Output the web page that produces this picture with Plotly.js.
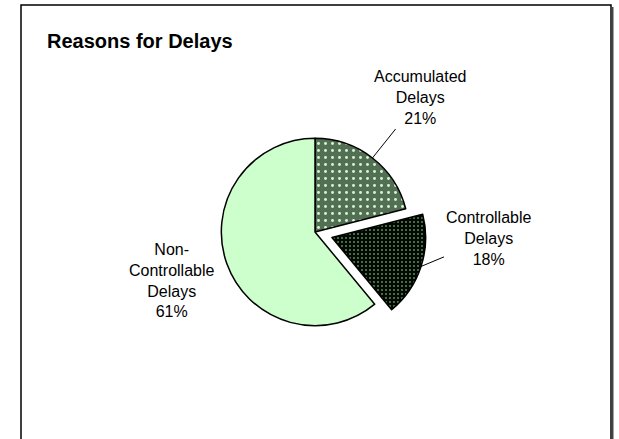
<!DOCTYPE html>
<html>
<head>
<meta charset="utf-8">
<script src="https://cdn.plot.ly/plotly-3.0.1.min.js"></script>
<style>html,body{margin:0;padding:0;background:#fff;}#chart{width:619px;height:439px;}</style>
</head>
<body>
<div id="chart"></div>
<script>
// ---- data ----
const categories = ["Accumulated Delays", "Controllable Delays", "Non-Controllable Delays"];
const displayLabels = ["Accumulated<br>Delays", "Controllable<br>Delays", "Non-<br>Controllable<br>Delays"];
const shares = [21, 18, 61];
const pulls = [0, 0.19, 0];

const W = 619, H = 439;
const FONT = "Liberation Sans, Arial, Helvetica, sans-serif";

const trace = {
  type: "pie",
  labels: categories,
  values: shares,
  sort: false,
  direction: "clockwise",
  rotation: 0,
  pull: pulls,
  textinfo: "none",
  hoverinfo: "label+percent",
  showlegend: false,
  domain: { x: [0.3288, 0.6890], y: [0.2175, 0.7255] },
  marker: {
    colors: ["#557555", "#000000", "#ccffcc"],
    line: { color: "#000000", width: 1.5 },
    pattern: {
      shape: [".", ".", ""],
      bgcolor: ["#536f53", "#030803", "#ccffcc"],
      fgcolor: ["#d4f5d4", "#5f9f5f", "#ccffcc"],
      size: [7, 4, 6],
      solidity: [0.14, 0.16, 0.3],
      fillmode: "replace"
    }
  }
};

const layout = {
  width: W, height: H,
  margin: { l: 0, r: 0, t: 0, b: 0 },
  paper_bgcolor: "#ffffff",
  plot_bgcolor: "#ffffff",
  font: { family: FONT, size: 16, color: "#000000" },
  title: {
    text: "<b>Reasons for Delays</b>",
    font: { family: FONT, size: 20, color: "#000000" },
    xref: "container", yref: "container",
    x: 47 / W, xanchor: "left",
    y: 1 - 41 / H, yanchor: "middle"
  },
  shapes: [
    { type: "rect", xref: "paper", yref: "paper",
      x0: 21 / W, x1: 611 / W, y0: -0.05, y1: 1 - 5 / H,
      line: { color: "#000000", width: 1.5 }, fillcolor: "rgba(0,0,0,0)" },
    { type: "line", xref: "paper", yref: "paper",
      x0: 612.5 / W, x1: 612.5 / W, y0: -0.05, y1: 1 - 7 / H,
      line: { color: "#444444", width: 2 } }
  ]
};

const gd = document.getElementById("chart");
Plotly.newPlot(gd, [trace], layout, { displayModeBar: false, staticPlot: true }).then(function () {
  const cd = gd.calcdata[0];
  const cd0 = cd[0];
  const total = shares.reduce((a, b) => a + b, 0);
  // label offsets (px) from each slice's outer arc midpoint
  const offs = [
    { ax: 48, ay: -60, arrow: true },
    { ax: 67, ay: -28, arrow: true },
    { ax: -55, ay: 17, arrow: false }
  ];
  const anns = cd.map(function (pt, i) {
    const p = pulls[i] || 0;
    const tx = cd0.cx + pt.pxmid[0] * (1 + p);
    const ty = cd0.cy + pt.pxmid[1] * (1 + p);
    const txt = displayLabels[i] + "<br>" + Math.round(shares[i] / total * 100) + "%";
    const a = {
      xref: "paper", yref: "paper",
      x: tx / W, y: 1 - ty / H,
      text: txt,
      font: { family: FONT, size: 16, color: "#000000" },
      align: "center"
    };
    if (offs[i].arrow) {
      Object.assign(a, { showarrow: true, ax: offs[i].ax, ay: offs[i].ay,
        arrowhead: 0, arrowwidth: 1, arrowcolor: "#000000", standoff: 0, startstandoff: 0 });
    } else {
      Object.assign(a, { showarrow: false, xshift: offs[i].ax, yshift: -offs[i].ay });
    }
    return a;
  });
  return Plotly.relayout(gd, { annotations: anns });
});
</script>
</body>
</html>
